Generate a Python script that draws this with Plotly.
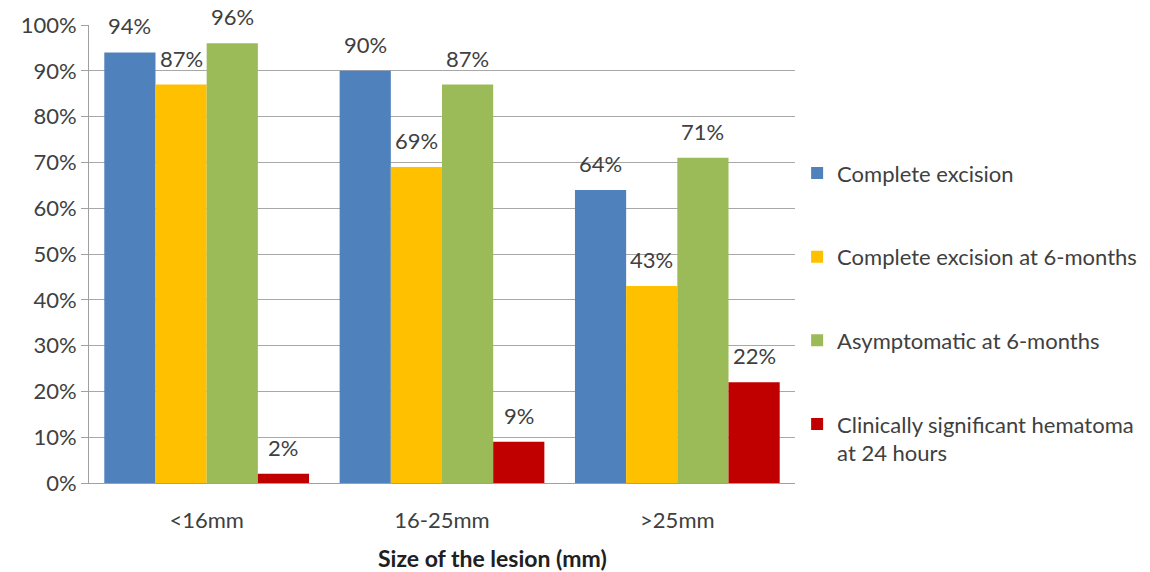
import plotly.graph_objects as go

categories = ["<16mm", "16-25mm", ">25mm"]
series_names = [
    "Complete excision",
    "Complete excision at 6-months",
    "Asymptomatic at 6-months",
    "Clinically significant hematoma<br>at 24 hours",
]
complete_excision = [94, 90, 64]
complete_excision_6m = [87, 69, 43]
asymptomatic_6m = [96, 87, 71]
hematoma_24h = [2, 9, 22]
y_tick_values = list(range(0, 101, 10))
y_tick_labels = [f"{v}%" for v in y_tick_values]

series_values = [complete_excision, complete_excision_6m, asymptomatic_6m, hematoma_24h]
colors = ["#4F81BD", "#FFC000", "#9BBB59", "#C00000"]

FONT = "Lato, Open Sans, sans-serif"
TEXT_COLOR = "#404040"
FS = 22
BARGAP = 0.13

L, R, T, B = 89, 355, 25, 89
W, H = 1150, 572
plot_w = W - L - R
plot_h = H - T - B
cat_px = plot_w / len(categories)
bar_px = cat_px * (1 - BARGAP) / len(series_values)

fig = go.Figure()
for i, (name, vals, col) in enumerate(zip(series_names, series_values, colors)):
    fig.add_trace(go.Bar(
        x=categories, y=vals, name=name,
        marker=dict(color=col, line=dict(width=0)),
        legendgroup=f"g{i}",
    ))

# value labels sitting above each bar
annotations = []
for i, vals in enumerate(series_values):
    shift = (i - (len(series_values) - 1) / 2) * bar_px
    for c, v in zip(categories, vals):
        annotations.append(dict(
            x=c, y=v, xref="x", yref="y", text=f"{v}%", showarrow=False,
            xshift=shift, yshift=11, yanchor="bottom",
            font=dict(family=FONT, size=FS, color=TEXT_COLOR),
        ))

# x-axis title placed below the category labels
annotations.append(dict(
    x=(492 - L) / plot_w, y=-(558 - (H - B)) / plot_h,
    xref="paper", yref="paper", yanchor="middle",
    text="<b>Size of the lesion (mm)</b>", showarrow=False,
    font=dict(family=FONT, size=23, color="#202020"),
))

fig.update_layout(
    width=W, height=H,
    margin=dict(l=L, r=R, t=T, b=B, pad=0, autoexpand=False),
    barmode="group", bargap=BARGAP, bargroupgap=0,
    plot_bgcolor="white", paper_bgcolor="white",
    font=dict(family=FONT, size=FS, color=TEXT_COLOR),
    showlegend=True,
    legend=dict(
        x=1.003, y=0.722, xanchor="left", yanchor="top",
        traceorder="grouped", tracegroupgap=52, valign="top",
        font=dict(family=FONT, size=FS, color=TEXT_COLOR),
        itemwidth=30, bgcolor="rgba(0,0,0,0)",
    ),
    annotations=annotations,
)
fig.update_xaxes(
    showline=True, linecolor="#a0a0a0", linewidth=1,
    ticks="", tickfont=dict(family=FONT, size=FS, color=TEXT_COLOR),
    ticklabelstandoff=18,
)
fig.update_yaxes(
    range=[0, 100], tickvals=y_tick_values, ticktext=y_tick_labels,
    showgrid=True, gridcolor="#a8a8a8", gridwidth=1,
    showline=True, linecolor="#a0a0a0", linewidth=1,
    ticks="outside", ticklen=7, tickcolor="#a0a0a0",
    tickfont=dict(family=FONT, size=FS, color=TEXT_COLOR),
    zeroline=False,
)

fig.write_html("out.html")
